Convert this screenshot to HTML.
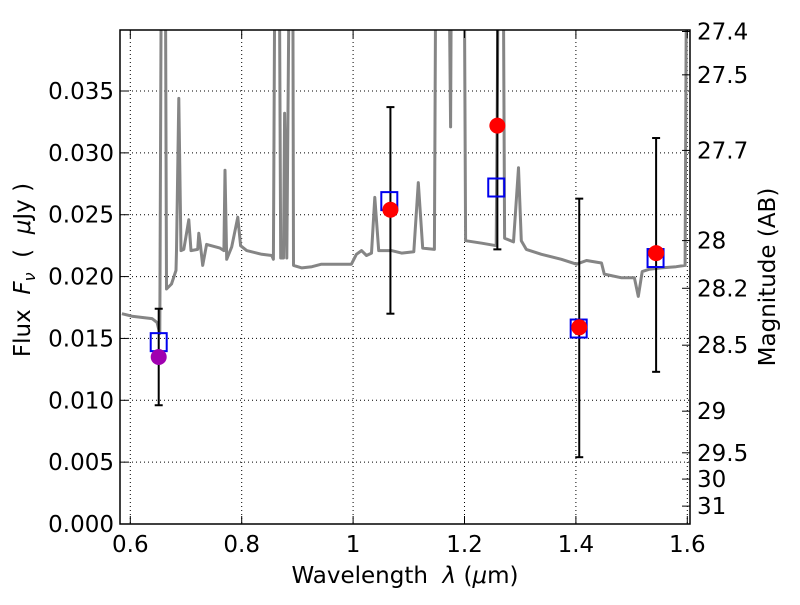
<!DOCTYPE html>
<html><head><meta charset="utf-8"><style>
body{margin:0;background:#fff}
svg{font-family:"DejaVu Sans","Liberation Sans",sans-serif}
</style></head><body>
<svg id="chart" width="800" height="600" xmlns="http://www.w3.org/2000/svg">
<defs><clipPath id="clip"><rect x="120" y="30" width="570" height="494"/></clipPath></defs>
<rect x="0" y="0" width="800" height="600" fill="#fff"/>
<g id="grid"></g>
<g id="spec" clip-path="url(#clip)"></g>
<g id="pts"></g>
<rect x="120" y="30" width="570" height="494" fill="none" stroke="#000" stroke-width="1.5"/>
<g id="axes"></g>
<text x="405" y="583" font-size="23" text-anchor="middle">Wavelength&#160;&#160;<tspan font-style="italic">λ</tspan>&#160;(<tspan font-style="italic">μ</tspan>m)</text>
<text transform="translate(30,270) rotate(-90)" font-size="23" text-anchor="middle">Flux&#160;&#160;<tspan font-style="italic">F</tspan><tspan font-style="italic" font-size="16" dy="5">ν</tspan><tspan dy="-5">&#160;&#160;(&#160;&#160;</tspan><tspan font-style="italic">μ</tspan>Jy&#160;)</text>
<text transform="translate(775,277) rotate(-90)" font-size="23" text-anchor="middle">Magnitude (AB)</text>
</svg>
<script>
const xTicks=[0.6,0.8,1.0,1.2,1.4,1.6];
const xTickLabels=["0.6","0.8","1","1.2","1.4","1.6"];
const yTicks=[0,0.005,0.01,0.015,0.02,0.025,0.03,0.035];
const yTickLabels=["0.000","0.005","0.010","0.015","0.020","0.025","0.030","0.035"];
const magTicks=[27.4,27.5,27.7,28,28.2,28.5,29,29.5,30,31];
const magTickLabels=["27.4","27.5","27.7","28","28.2","28.5","29","29.5","30","31"];
const specLam=[0.585,0.603,0.639,0.648,0.653,0.657,0.662,0.665,0.674,0.682,0.683,0.687,0.691,0.696,0.705,0.709,0.721,0.723,0.726,0.730,0.737,0.761,0.768,0.770,0.773,0.782,0.793,0.798,0.809,0.836,0.854,0.857,0.861,0.866,0.870,0.875,0.877,0.881,0.888,0.891,0.893,0.908,0.926,0.943,0.970,0.997,1.006,1.015,1.024,1.033,1.039,1.046,1.069,1.087,1.109,1.117,1.125,1.146,1.150,1.169,1.175,1.178,1.198,1.202,1.231,1.257,1.263,1.268,1.272,1.288,1.297,1.302,1.311,1.338,1.374,1.401,1.419,1.446,1.451,1.482,1.505,1.512,1.519,1.532,1.553,1.580,1.596,1.600,1.607];
const specFlux=[0.0170,0.0168,0.0166,0.0163,0.0154,0.06,0.06,0.0190,0.0194,0.0205,0.0221,0.0344,0.0221,0.0222,0.0246,0.0221,0.0222,0.0235,0.0225,0.0209,0.0226,0.0223,0.0221,0.0286,0.0214,0.0224,0.0248,0.0225,0.0221,0.0218,0.0217,0.0214,0.06,0.06,0.0215,0.0215,0.0332,0.0215,0.06,0.06,0.0209,0.0207,0.0208,0.0210,0.0210,0.0210,0.0218,0.0221,0.0217,0.0219,0.0264,0.0221,0.0221,0.0219,0.0220,0.0276,0.0223,0.0222,0.06,0.06,0.0321,0.06,0.06,0.0229,0.0227,0.0225,0.06,0.06,0.0231,0.0228,0.0288,0.0229,0.0222,0.0218,0.0214,0.0210,0.0213,0.0211,0.0202,0.0199,0.0199,0.0184,0.0204,0.0206,0.0207,0.0208,0.0209,0.06,0.06];
const obsLam=[0.651,1.067,1.259,1.406,1.544];
const obsFlux=[0.0135,0.0254,0.0322,0.0159,0.0219];
const errLo=[0.0096,0.0170,0.0222,0.0054,0.0123];
const errHi=[0.0174,0.0337,0.0420,0.0263,0.0312];
const obsColors=["#a000b0","red","red","red","red"];
const modelLam=[0.651,1.065,1.257,1.405,1.543];
const modelFlux=[0.0147,0.0261,0.0272,0.0158,0.0215];

const NS="http://www.w3.org/2000/svg";
const xs=l=>130.3+(l-0.6)*557;
const ys=f=>524-f*12371;
const magToFlux=m=>Math.pow(10,(23.9-m)/2.5);
function mk(tag,attrs,parent){const e=document.createElementNS(NS,tag);for(const k in attrs)e.setAttribute(k,attrs[k]);parent.appendChild(e);return e;}
const grid=document.getElementById('grid'),axes=document.getElementById('axes'),spec=document.getElementById('spec'),pts=document.getElementById('pts');
xTicks.forEach((t,i)=>{const x=xs(t);
 let g=mk('line',{x1:x,x2:x,y1:30,y2:524,stroke:'#000','stroke-width':1,'stroke-dasharray':'1,3'},grid);
 
 let a=mk('line',{x1:x,x2:x,y1:524,y2:516,stroke:'#000'},axes);
 let b=mk('line',{x1:x,x2:x,y1:30,y2:38,stroke:'#000'},axes);
 let t2=mk('text',{x:x,y:552,'font-size':23,'text-anchor':'middle'},axes);t2.textContent=xTickLabels[i];
 
});
yTicks.forEach((t,i)=>{const y=ys(t);
 let g=mk('line',{x1:120,x2:690,y1:y,y2:y,stroke:'#000','stroke-width':1,'stroke-dasharray':'1,3'},grid);
 
 let a=mk('line',{x1:120,x2:128,y1:y,y2:y,stroke:'#000'},axes);
 let t2=mk('text',{x:114,y:y+8,'font-size':23,'text-anchor':'end'},axes);t2.textContent=yTickLabels[i];
 
});
magTicks.forEach((m,i)=>{const y=ys(magToFlux(m));
 let a=mk('line',{x1:682,x2:690,y1:y,y2:y,stroke:'#000'},axes);
 let t2=mk('text',{x:697,y:y+8,'font-size':23,'text-anchor':'start'},axes);t2.textContent=magTickLabels[i];
 
});
let d=specLam.map((l,i)=>(i?'L':'M')+xs(l).toFixed(1)+','+ys(specFlux[i]).toFixed(1)).join(' ');
let sp=mk('path',{d:d,fill:'none',stroke:'#858585','stroke-width':3,'stroke-linejoin':'round'},spec);

obsLam.forEach((l,i)=>{const x=xs(l);
 const yt=Math.max(ys(errHi[i]),30),yb=ys(errLo[i]);
 let e=mk('line',{x1:x,x2:x,y1:yt,y2:yb,stroke:'#000','stroke-width':2},pts);
 if(ys(errHi[i])>=30){let c=mk('line',{x1:x-4,x2:x+4,y1:yt,y2:yt,stroke:'#000','stroke-width':2},pts);}
 let c2=mk('line',{x1:x-4,x2:x+4,y1:yb,y2:yb,stroke:'#000','stroke-width':2},pts);
});
modelLam.forEach((l,i)=>{let r=mk('rect',{x:xs(l)-8,y:ys(modelFlux[i])-9,width:16,height:18,fill:'none',stroke:'#0000ee','stroke-width':2},pts);
 });
obsLam.forEach((l,i)=>{let c=mk('circle',{cx:xs(l),cy:ys(obsFlux[i]),r:8,fill:obsColors[i]},pts);
 });
</script>
</body></html>
